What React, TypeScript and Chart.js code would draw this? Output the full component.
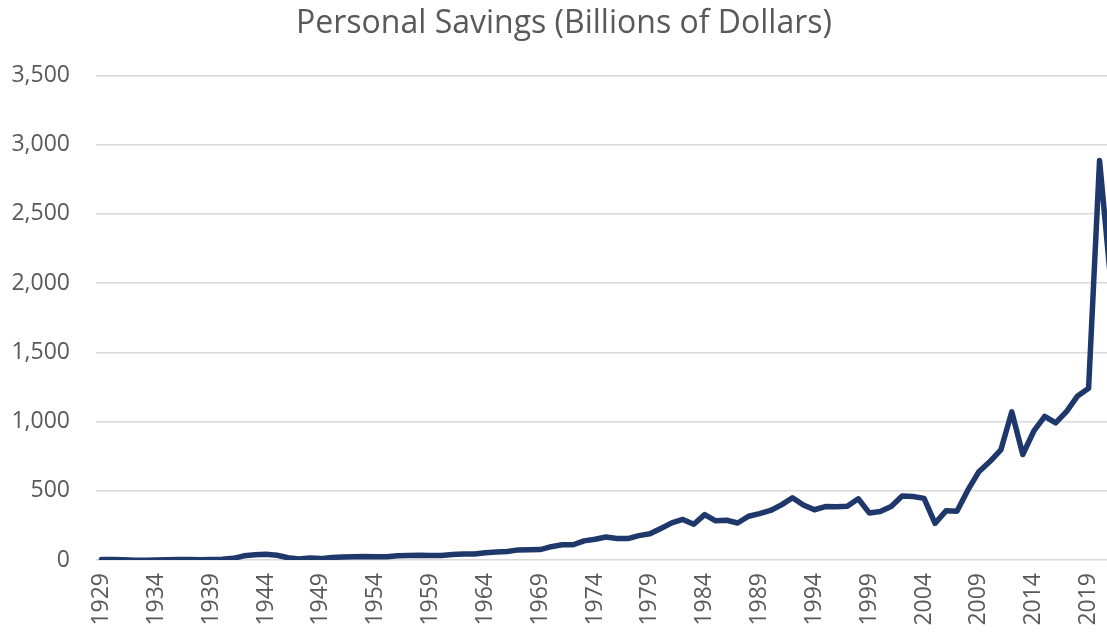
import React, { useEffect, useRef } from "react";
import { Chart, registerables } from "chart.js";

Chart.register(...registerables);

const TITLE = "Personal Savings (Billions of Dollars)";

const years: string[] = [];
for (let y = 1929; y <= 2021; y++) years.push(String(y));

const savings: number[] = [
  // 1929-1938
  4, 3, 2, -1, -2, 0, 2, 4, 4, 1,
  // 1939-1948
  3, 5, 12, 30, 38, 42, 34, 16, 8, 14,
  // 1949-1958
  10, 18, 22, 24, 25, 23, 23, 30, 33, 35,
  // 1959-1968
  33, 33, 40, 43, 43, 53, 57, 61, 73, 74,
  // 1969-1978
  75, 96, 110, 110, 138, 150, 166, 155, 155, 176,
  // 1979-1988
  190, 228, 268, 293, 258, 328, 283, 287, 267, 316,
  // 1989-1998
  335, 358, 398, 450, 397, 363, 386, 384, 388, 442,
  // 1999-2008
  340, 350, 387, 462, 458, 445, 265, 355, 352, 506,
  // 2009-2018
  638, 711, 795, 1070, 762, 930, 1037, 990, 1073, 1185,
  // 2019-2021
  1240, 2886, 2030,
];

const yTicks: number[] = [0, 500, 1000, 1500, 2000, 2500, 3000, 3500];

const FONT = "'Open Sans', 'Noto Sans', sans-serif";
const TEXT = "#595959";

export default function App() {
  const ref = useRef<HTMLCanvasElement | null>(null);

  useEffect(() => {
    if (!ref.current) return;
    const chart = new Chart(ref.current, {
      type: "line",
      data: {
        labels: years,
        datasets: [
          {
            label: "Personal Savings",
            data: savings,
            borderColor: "#1f386b",
            backgroundColor: "#1f386b",
            borderWidth: 5.5,
            pointRadius: 0,
            tension: 0,
            borderJoinStyle: "round",
            borderCapStyle: "round",
          },
        ],
      },
      options: {
        animation: false,
        responsive: true,
        maintainAspectRatio: false,
        layout: { padding: { left: 12, right: 26, top: 1, bottom: 0 } },
        plugins: {
          legend: { display: false },
          tooltip: { enabled: false },
          title: {
            display: true,
            text: TITLE,
            color: TEXT,
            font: { family: FONT, size: 32, weight: "normal" },
            padding: { top: 4, bottom: 32 },
          },
        },
        scales: {
          x: {
            type: "category",
            offset: true,
            grid: { display: false, drawTicks: false },
            border: { display: false },
            afterFit: (axis: any) => {
              axis.height = 76;
            },
            ticks: {
              autoSkip: false,
              minRotation: 90,
              maxRotation: 90,
              padding: 13,
              color: TEXT,
              font: { family: FONT, size: 23 },
              callback: function (_v: any, i: number) {
                const y = Number(years[i]);
                return (y - 1929) % 5 === 0 ? years[i] : null;
              },
            },
          },
          y: {
            min: yTicks[0],
            max: yTicks[yTicks.length - 1],
            grid: { color: "#d9d9d9", lineWidth: 1.5, drawTicks: false },
            border: { display: false },
            afterFit: (axis: any) => {
              axis.width = 84;
            },
            afterBuildTicks: (axis: any) => {
              axis.ticks = yTicks.map((v) => ({ value: v }));
            },
            ticks: {
              padding: 26,
              color: TEXT,
              font: { family: FONT, size: 23 },
              callback: (v: any) => Number(v).toLocaleString("en-US"),
            },
          },
        },
      },
    });
    return () => chart.destroy();
  }, []);

  return (
    <div
      style={{
        position: "fixed",
        left: 0,
        top: 0,
        width: 1107,
        height: 636,
        overflow: "hidden",
        background: "#fff",
      }}
    >
      <div style={{ position: "relative", width: 1142, height: 636 }}>
        <canvas ref={ref} />
      </div>
    </div>
  );
}
